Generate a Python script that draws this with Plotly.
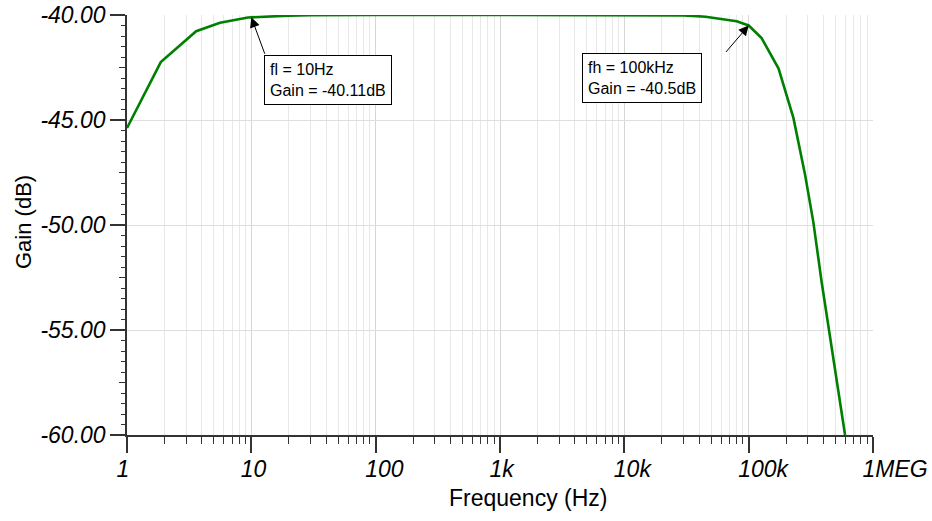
import math
import plotly.graph_objects as go

# ---- data ----
freq_hz = [1, 1.87, 3.6, 5.6, 9.4, 10, 14, 20, 30, 50, 100, 1000, 10000, 30000,
           45000, 55000, 66000, 80000, 100000, 127000, 174000, 202000, 229000,
           284000, 331000, 386000, 451000, 596000]
gain_db = [-45.38, -42.24, -40.77, -40.37, -40.12, -40.11, -40.06, -40.03, -40.01, -40.0,
           -40.0, -40.0, -40.0, -40.02, -40.08, -40.16, -40.2, -40.3, -40.5, -41.1,
           -42.55, -43.8, -44.9, -47.6, -49.85, -52.7, -55.25, -60.0]

x_tick_vals = [1, 10, 100, 1000, 10000, 100000, 1000000]
x_tick_text = ["1", "10", "100", "1k", "10k", "100k", "1MEG"]
y_tick_vals = [-60, -55, -50, -45, -40]
y_tick_text = ["-60.00", "-55.00", "-50.00", "-45.00", "-40.00"]
y_mid_ticks = [-57.5, -52.5, -47.5, -42.5]

marker_f = [10, 100000]
marker_g = [-40.11, -40.5]
marker_text = ["fl = 10Hz<br>Gain = -40.11dB", "fh = 100kHz<br>Gain = -40.5dB"]

FONT = "Arial, Liberation Sans, sans-serif"
AX = "#333333"

fig = go.Figure()
fig.add_trace(go.Scatter(x=freq_hz, y=gain_db, mode="lines",
                         line=dict(color="#008000", width=2.6),
                         showlegend=False, hoverinfo="skip"))
# helper trace for the medium y ticks
fig.add_trace(go.Scatter(x=[None], y=[None], yaxis="y2", showlegend=False,
                         hoverinfo="skip"))

minor_x = [m * 10 ** d for d in range(6) for m in range(2, 10)]

fig.update_layout(
    width=932, height=521, autosize=False,
    margin=dict(l=127, r=59, t=15, b=86),
    paper_bgcolor="white", plot_bgcolor="white",
    font=dict(family=FONT, color="black"),
    xaxis=dict(
        type="log", range=[0, 6], automargin=False,
        tickmode="array", tickvals=x_tick_vals, ticktext=x_tick_text,
        ticks="outside", ticklen=16, tickwidth=1.5, tickcolor=AX,
        ticklabelposition="outside right", ticklabelshift=-12,
        ticklabelstandoff=13, ticklabeloverflow="allow",
        tickfont=dict(size=23, style="italic", family=FONT, color="black"),
        showgrid=True, gridcolor="#d6d6d6", gridwidth=1,
        showline=True, linecolor=AX, linewidth=1.5,
        zeroline=False,
        minor=dict(tickmode="array", tickvals=minor_x, ticks="outside", ticklen=7,
                   tickwidth=1.2, tickcolor=AX, showgrid=True,
                   gridcolor="#e8e8e8", gridwidth=1),
    ),
    yaxis=dict(
        range=[-60, -40], automargin=False, ticklabeloverflow="allow",
        tickmode="array", tickvals=y_tick_vals, ticktext=y_tick_text,
        ticks="outside", ticklen=15, tickwidth=1.5, tickcolor=AX,
        tickfont=dict(size=23, style="italic", family=FONT, color="black"),
        showgrid=True, gridcolor="#dedede", gridwidth=1,
        showline=True, linecolor=AX, linewidth=1.5,
        zeroline=False,
        minor=dict(dtick=0.5, tick0=-60, ticks="outside", ticklen=4, tickwidth=1.2,
                   tickcolor=AX, showgrid=False),
    ),
    yaxis2=dict(
        overlaying="y", side="left", anchor="x", range=[-60, -40], automargin=False,
        tickmode="array", tickvals=y_mid_ticks, ticks="outside", ticklen=7,
        tickwidth=1.2, tickcolor=AX, showticklabels=False, showgrid=False,
        showline=False, zeroline=False,
    ),
)

annotations = []
# arrows (tail offsets in pixels from the marked point)
arrow_offsets = [(14, 38), (-24, 28)]
for f, g, (ax, ay) in zip(marker_f, marker_g, arrow_offsets):
    annotations.append(dict(x=math.log10(f), y=g, xref="x", yref="y", text="",
                            showarrow=True, ax=ax, ay=ay, arrowhead=2,
                            arrowsize=2, arrowwidth=1, arrowcolor="black"))
# text boxes (top-left corners)
box_pos = [(1.102, -41.905), (3.657, -41.83)]
for (bx, by), txt in zip(box_pos, marker_text):
    annotations.append(dict(x=bx, y=by, xref="x", yref="y", text=txt,
                            showarrow=False, xanchor="left", yanchor="top",
                            align="left", bgcolor="white", bordercolor="black",
                            borderwidth=1, borderpad=5,
                            font=dict(size=16, family=FONT, color="black")))
# axis titles
annotations.append(dict(x=(23 - 127) / 746, y=(435 - 222) / 420, xref="paper",
                        yref="paper", text="Gain (dB)", textangle=-90,
                        xanchor="center", yanchor="middle",
                        showarrow=False, font=dict(size=22, family=FONT, color="black")))
annotations.append(dict(x=(527.5 - 127) / 746, y=(435 - 498) / 420, xref="paper",
                        yref="paper", text="Frequency (Hz)", showarrow=False,
                        xanchor="center", yanchor="middle",
                        font=dict(size=23, family=FONT, color="black")))
fig.update_layout(annotations=annotations)

# remove the default page margin so the figure sits at the window's top-left
fig.write_html("out.html", config={"displayModeBar": False},
               post_script="document.body.style.margin='0';")
